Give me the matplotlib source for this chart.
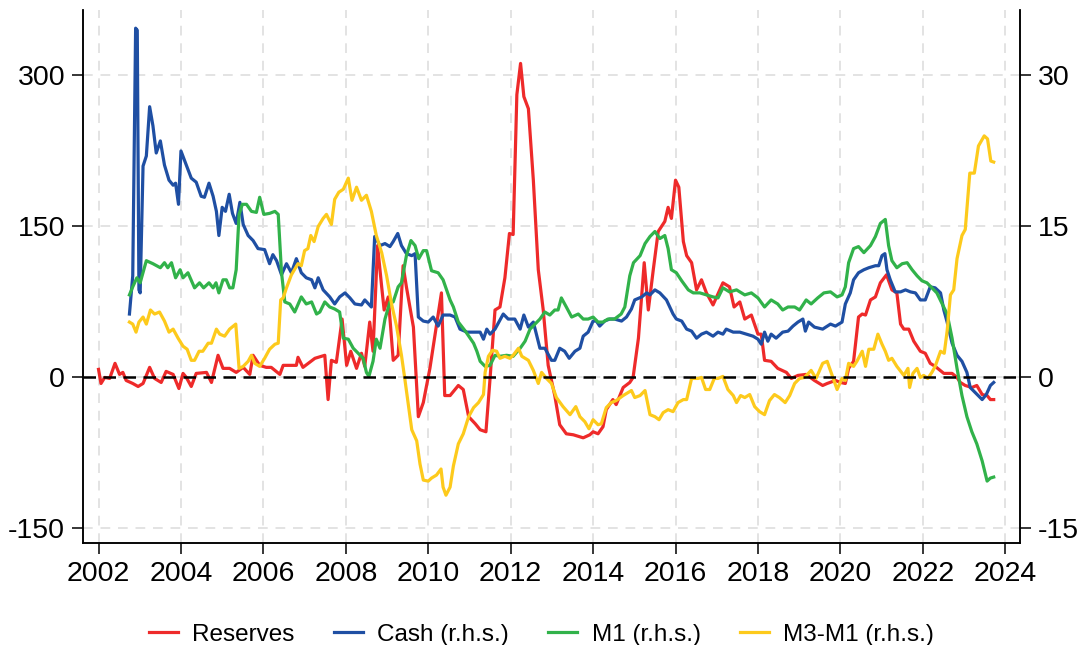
import numpy as np
import matplotlib
matplotlib.use("Agg")
import matplotlib.pyplot as plt

plt.rcParams['font.family'] = ['Liberation Sans', 'DejaVu Sans']
plt.rcParams['axes.unicode_minus'] = False

# Reserves (l.h.s.)
res_t = [2002.00, 2002.06, 2002.15, 2002.27, 2002.40, 2002.51, 2002.59, 2002.67, 2002.83, 2002.96,
         2003.08, 2003.24, 2003.36, 2003.52, 2003.64, 2003.81, 2003.95, 2004.05, 2004.13, 2004.25,
         2004.37, 2004.62, 2004.74, 2004.90, 2005.02, 2005.18, 2005.34, 2005.51, 2005.67, 2005.75,
         2005.91, 2006.07, 2006.19, 2006.40, 2006.48, 2006.80, 2006.84, 2006.96, 2007.25, 2007.49,
         2007.57, 2007.65, 2007.77, 2007.91, 2008.02, 2008.12, 2008.26, 2008.38, 2008.46, 2008.58,
         2008.66, 2008.77, 2008.87, 2008.93, 2009.03, 2009.15, 2009.27, 2009.39, 2009.47, 2009.64,
         2009.76, 2009.88, 2010.04, 2010.24, 2010.32, 2010.40, 2010.53, 2010.73, 2010.85, 2010.98,
         2011.14, 2011.26, 2011.40, 2011.50, 2011.62, 2011.74, 2011.86, 2011.97, 2012.06, 2012.15,
         2012.24, 2012.32, 2012.43, 2012.55, 2012.67, 2012.79, 2012.91, 2013.07, 2013.19, 2013.35,
         2013.52, 2013.76, 2013.92, 2014.00, 2014.12, 2014.24, 2014.32, 2014.48, 2014.56, 2014.73,
         2014.89, 2014.97, 2015.10, 2015.24, 2015.34, 2015.46, 2015.58, 2015.74, 2015.82, 2015.90,
         2016.00, 2016.08, 2016.19, 2016.27, 2016.39, 2016.51, 2016.63, 2016.75, 2016.91, 2017.15,
         2017.31, 2017.42, 2017.56, 2017.68, 2017.84, 2018.00, 2018.08, 2018.16, 2018.32, 2018.48,
         2018.69, 2018.81, 2018.97, 2019.17, 2019.37, 2019.57, 2019.68, 2019.88, 2020.00, 2020.12,
         2020.20, 2020.32, 2020.44, 2020.53, 2020.61, 2020.73, 2020.85, 2020.97, 2021.12, 2021.25,
         2021.37, 2021.46, 2021.54, 2021.66, 2021.78, 2021.94, 2022.06, 2022.18, 2022.30, 2022.51,
         2022.71, 2022.83, 2022.91, 2023.03, 2023.19, 2023.31, 2023.44, 2023.56, 2023.64, 2023.72]
res_v = [8, -6, 0, -1, 14, 3, 5, -3, -6, -9,
         -6, 10, -1, -5, 6, 3, -11, 4, 0, -9,
         4, 5, -5, 22, 9, 9, 5, 10, 3, 22,
         12, 10, 10, 3, 12, 12, 20, 10, 19, 22,
         -22, 17, 15, 58, 12, 26, 9, 24, 11, 55,
         26, 131, 90, 67, 80, 17, 22, 111, 90, 50,
         -39, -25, 9, 63, 84, -18, -18, -8, -12, -39,
         -46, -52, -54, -1, 67, 70, 99, 143, 142, 281,
         312, 279, 267, 196, 107, 67, 12, -18, -47, -56,
         -57, -60, -57, -54, -56, -49, -32, -22, -27, -10,
         -5, 0, 39, 114, 67, 107, 145, 155, 169, 158,
         196, 189, 135, 121, 114, 87, 97, 84, 72, 94,
         90, 70, 75, 58, 62, 43, 43, 17, 16, 9,
         5, -1, 2, 3, -3, -8, -6, -3, -5, -6,
         9, 16, 60, 63, 62, 77, 80, 94, 102, 87,
         84, 53, 48, 48, 36, 26, 24, 14, 11, 4,
         4, 0, -5, -8, -10, -8, -17, -18, -22, -22]

# Cash (r.h.s.)
cash_t = [2002.75, 2002.83, 2002.90, 2002.94, 2002.98, 2003.01, 2003.08, 2003.16, 2003.24, 2003.32,
          2003.40, 2003.50, 2003.60, 2003.71, 2003.81, 2003.87, 2003.94, 2004.00, 2004.13, 2004.25,
          2004.37, 2004.49, 2004.57, 2004.68, 2004.78, 2004.86, 2004.92, 2005.00, 2005.08, 2005.17,
          2005.25, 2005.34, 2005.43, 2005.51, 2005.63, 2005.75, 2005.87, 2006.03, 2006.15, 2006.23,
          2006.32, 2006.44, 2006.56, 2006.68, 2006.80, 2006.92, 2007.04, 2007.17, 2007.25, 2007.33,
          2007.45, 2007.61, 2007.73, 2007.85, 2007.98, 2008.10, 2008.22, 2008.38, 2008.46, 2008.62,
          2008.70, 2008.83, 2008.95, 2009.07, 2009.15, 2009.26, 2009.35, 2009.47, 2009.60, 2009.68,
          2009.76, 2009.88, 2010.00, 2010.12, 2010.24, 2010.36, 2010.53, 2010.65, 2010.77, 2010.94,
          2011.10, 2011.26, 2011.34, 2011.42, 2011.50, 2011.62, 2011.82, 2011.94, 2012.10, 2012.23,
          2012.32, 2012.43, 2012.55, 2012.71, 2012.83, 2012.99, 2013.07, 2013.19, 2013.31, 2013.42,
          2013.56, 2013.68, 2013.76, 2013.88, 2014.00, 2014.08, 2014.16, 2014.28, 2014.40, 2014.52,
          2014.69, 2014.81, 2014.93, 2015.01, 2015.18, 2015.30, 2015.38, 2015.50, 2015.62, 2015.78,
          2015.86, 2015.94, 2016.02, 2016.15, 2016.27, 2016.39, 2016.51, 2016.63, 2016.75, 2016.91,
          2017.03, 2017.15, 2017.23, 2017.40, 2017.56, 2017.72, 2017.88, 2018.00, 2018.08, 2018.16,
          2018.24, 2018.32, 2018.44, 2018.60, 2018.73, 2018.85, 2018.97, 2019.09, 2019.15, 2019.23,
          2019.37, 2019.57, 2019.76, 2019.88, 2020.04, 2020.12, 2020.24, 2020.32, 2020.44, 2020.57,
          2020.69, 2020.85, 2020.93, 2021.01, 2021.08, 2021.13, 2021.21, 2021.33, 2021.46, 2021.58,
          2021.70, 2021.82, 2021.94, 2022.06, 2022.18, 2022.30, 2022.43, 2022.51, 2022.59, 2022.71,
          2022.83, 2022.95, 2023.07, 2023.15, 2023.27, 2023.44, 2023.54, 2023.64, 2023.72]
cash_v = [6.3, 10.1, 34.7, 34.5, 8.7, 8.4, 21.0, 22.0, 26.9, 25.0,
          22.3, 23.5, 21.1, 19.6, 19.1, 19.3, 17.2, 22.5, 21.1, 19.8,
          19.4, 18.0, 17.9, 19.3, 18.0, 16.5, 14.1, 16.9, 16.5, 18.2,
          16.3, 15.3, 17.4, 15.2, 14.1, 13.6, 12.8, 12.7, 11.3, 12.2,
          11.6, 10.2, 11.3, 10.4, 11.8, 10.4, 9.9, 9.7, 8.9, 9.9,
          8.7, 8.0, 7.3, 8.0, 8.4, 7.9, 7.3, 7.2, 7.7, 7.0,
          14.0, 13.1, 13.3, 13.0, 13.5, 14.3, 13.1, 12.3, 12.1, 12.3,
          6.0, 5.6, 5.5, 6.0, 5.1, 6.2, 6.2, 6.0, 4.8, 4.5,
          4.5, 4.5, 3.8, 4.8, 4.3, 4.8, 6.3, 5.8, 5.8, 4.8,
          6.2, 5.0, 5.5, 2.9, 2.9, 1.7, 1.7, 2.9, 2.6, 1.9,
          2.6, 2.9, 4.1, 4.5, 5.6, 5.6, 5.1, 5.6, 5.8, 5.8,
          5.6, 6.0, 6.8, 7.7, 8.0, 8.4, 8.2, 8.7, 8.4, 7.7,
          7.0, 6.3, 5.8, 5.6, 4.8, 4.6, 3.9, 4.3, 4.5, 4.1,
          4.5, 4.3, 4.8, 4.5, 4.5, 4.3, 4.1, 3.8, 3.3, 4.5,
          3.6, 4.3, 3.9, 4.5, 4.6, 5.1, 5.5, 5.8, 4.6, 5.5,
          5.0, 4.8, 5.3, 5.1, 5.5, 7.3, 8.4, 9.7, 10.4, 10.7,
          10.9, 11.1, 11.1, 12.1, 12.3, 10.7, 9.7, 8.5, 8.5, 8.7,
          8.5, 8.4, 7.7, 7.7, 9.0, 8.9, 8.4, 6.7, 5.5, 3.4,
          2.2, 1.6, 0.5, -1.0, -1.5, -2.2, -1.7, -0.8, -0.5]

# M1 (r.h.s.)
m1_t = [2002.75, 2002.83, 2002.93, 2003.01, 2003.16, 2003.32, 2003.50, 2003.60, 2003.68, 2003.77,
        2003.87, 2003.98, 2004.05, 2004.17, 2004.33, 2004.45, 2004.55, 2004.68, 2004.78, 2004.85,
        2004.92, 2005.02, 2005.10, 2005.18, 2005.26, 2005.34, 2005.41, 2005.49, 2005.59, 2005.71,
        2005.83, 2005.91, 2006.01, 2006.15, 2006.28, 2006.36, 2006.44, 2006.52, 2006.64, 2006.76,
        2006.92, 2007.04, 2007.17, 2007.29, 2007.37, 2007.49, 2007.61, 2007.73, 2007.85, 2007.94,
        2008.06, 2008.18, 2008.30, 2008.42, 2008.50, 2008.56, 2008.66, 2008.74, 2008.83, 2008.95,
        2009.07, 2009.15, 2009.27, 2009.35, 2009.47, 2009.58, 2009.68, 2009.77, 2009.88, 2009.96,
        2010.08, 2010.24, 2010.36, 2010.53, 2010.61, 2010.73, 2010.90, 2011.10, 2011.18, 2011.26,
        2011.38, 2011.50, 2011.62, 2011.74, 2011.90, 2012.06, 2012.23, 2012.35, 2012.47, 2012.59,
        2012.71, 2012.83, 2012.95, 2013.07, 2013.15, 2013.23, 2013.35, 2013.48, 2013.64, 2013.76,
        2013.88, 2014.00, 2014.12, 2014.24, 2014.36, 2014.52, 2014.68, 2014.77, 2014.89, 2014.98,
        2015.14, 2015.26, 2015.38, 2015.50, 2015.62, 2015.74, 2015.82, 2015.90, 2016.02, 2016.15,
        2016.31, 2016.43, 2016.59, 2016.75, 2016.91, 2017.03, 2017.15, 2017.31, 2017.48, 2017.68,
        2017.84, 2018.00, 2018.16, 2018.32, 2018.48, 2018.60, 2018.73, 2018.89, 2019.01, 2019.17,
        2019.29, 2019.45, 2019.60, 2019.76, 2019.92, 2020.04, 2020.12, 2020.20, 2020.32, 2020.44,
        2020.57, 2020.73, 2020.85, 2020.97, 2021.09, 2021.17, 2021.25, 2021.37, 2021.50, 2021.62,
        2021.74, 2021.86, 2021.98, 2022.10, 2022.22, 2022.34, 2022.47, 2022.59, 2022.71, 2022.83,
        2022.95, 2023.07, 2023.19, 2023.31, 2023.44, 2023.56, 2023.64, 2023.72]
m1_v = [8.2, 9.0, 9.9, 9.4, 11.6, 11.3, 10.9, 11.4, 10.9, 11.4,
        9.9, 10.7, 9.9, 10.4, 8.9, 9.4, 8.9, 9.4, 8.9, 9.4,
        8.4, 9.7, 9.7, 8.9, 8.9, 10.7, 16.2, 17.2, 17.2, 16.5,
        16.4, 17.9, 16.2, 16.3, 16.5, 16.2, 10.4, 7.5, 7.3, 6.5,
        8.0, 7.3, 7.5, 6.3, 6.5, 7.5, 7.0, 6.8, 6.5, 3.9,
        3.8, 2.9, 2.4, 1.9, 0.5, 0.1, 1.6, 3.8, 2.9, 5.8,
        7.5, 7.5, 9.0, 9.4, 12.1, 13.6, 13.1, 11.8, 12.6, 12.6,
        10.6, 10.4, 9.7, 7.7, 7.0, 5.5, 4.6, 3.4, 2.6, 1.6,
        1.1, 1.2, 2.2, 2.1, 2.2, 2.1, 2.9, 3.6, 4.8, 5.3,
        5.8, 6.5, 6.2, 6.7, 6.7, 7.9, 7.0, 6.0, 6.3, 5.8,
        5.8, 6.0, 5.5, 5.5, 5.8, 5.8, 6.3, 7.0, 10.1, 11.4,
        12.1, 13.3, 14.0, 14.5, 13.8, 14.1, 12.8, 10.7, 10.4, 9.6,
        8.7, 8.4, 8.4, 8.2, 8.0, 7.9, 8.9, 8.5, 8.7, 8.2,
        8.4, 7.9, 7.0, 7.7, 7.3, 6.7, 7.0, 7.0, 6.7, 7.7,
        7.3, 7.9, 8.4, 8.5, 8.0, 8.2, 9.0, 11.4, 12.8, 13.0,
        12.4, 13.1, 14.0, 15.3, 15.7, 13.1, 11.6, 10.9, 11.3, 11.4,
        10.7, 10.1, 9.6, 9.4, 8.9, 8.4, 7.3, 6.3, 3.9, 0.9,
        -1.8, -3.9, -5.4, -6.6, -8.3, -10.3, -10.0, -9.9]

# M3-M1 (r.h.s.)
m3_t = [2002.75, 2002.83, 2002.91, 2002.98, 2003.08, 2003.16, 2003.26, 2003.36, 2003.48, 2003.60,
        2003.71, 2003.81, 2003.93, 2004.05, 2004.15, 2004.25, 2004.33, 2004.44, 2004.53, 2004.66,
        2004.74, 2004.86, 2004.94, 2005.06, 2005.18, 2005.33, 2005.41, 2005.51, 2005.63, 2005.71,
        2005.79, 2005.91, 2006.03, 2006.15, 2006.28, 2006.36, 2006.42, 2006.48, 2006.56, 2006.68,
        2006.84, 2006.92, 2007.00, 2007.08, 2007.15, 2007.23, 2007.33, 2007.45, 2007.53, 2007.65,
        2007.73, 2007.83, 2007.94, 2008.06, 2008.15, 2008.26, 2008.38, 2008.50, 2008.62, 2008.74,
        2008.87, 2008.99, 2009.11, 2009.23, 2009.35, 2009.43, 2009.51, 2009.60, 2009.72, 2009.80,
        2009.88, 2010.00, 2010.08, 2010.20, 2010.31, 2010.36, 2010.43, 2010.53, 2010.61, 2010.73,
        2010.85, 2010.98, 2011.10, 2011.22, 2011.34, 2011.38, 2011.46, 2011.56, 2011.66, 2011.74,
        2011.86, 2011.98, 2012.06, 2012.19, 2012.27, 2012.43, 2012.55, 2012.67, 2012.75, 2012.87,
        2012.99, 2013.11, 2013.27, 2013.44, 2013.58, 2013.68, 2013.80, 2013.90, 2014.00, 2014.12,
        2014.20, 2014.32, 2014.44, 2014.56, 2014.73, 2014.93, 2015.01, 2015.14, 2015.26, 2015.38,
        2015.50, 2015.60, 2015.70, 2015.82, 2015.94, 2016.06, 2016.19, 2016.27, 2016.39, 2016.55,
        2016.63, 2016.73, 2016.83, 2016.94, 2017.03, 2017.15, 2017.27, 2017.40, 2017.48, 2017.58,
        2017.68, 2017.80, 2017.92, 2018.04, 2018.16, 2018.28, 2018.40, 2018.52, 2018.66, 2018.77,
        2018.89, 2019.01, 2019.13, 2019.29, 2019.41, 2019.57, 2019.68, 2019.80, 2019.92, 2020.04,
        2020.12, 2020.20, 2020.32, 2020.40, 2020.53, 2020.61, 2020.69, 2020.81, 2020.91, 2021.01,
        2021.09, 2021.17, 2021.25, 2021.37, 2021.54, 2021.64, 2021.68, 2021.76, 2021.86, 2021.94,
        2022.02, 2022.12, 2022.22, 2022.30, 2022.43, 2022.52, 2022.59, 2022.67, 2022.75, 2022.83,
        2022.95, 2023.03, 2023.14, 2023.25, 2023.35, 2023.49, 2023.57, 2023.65, 2023.72]
m3_v = [5.5, 5.3, 4.5, 5.5, 6.0, 5.3, 6.7, 6.3, 6.5, 5.6,
        4.5, 4.8, 3.9, 3.1, 2.8, 1.7, 1.7, 2.6, 2.6, 3.4,
        3.4, 4.8, 4.3, 4.1, 4.8, 5.3, 0.9, 1.1, 1.6, 2.2,
        1.4, 1.1, 1.9, 2.8, 3.3, 3.4, 7.7, 7.9, 8.9, 10.2,
        11.3, 11.1, 12.6, 12.8, 14.1, 13.5, 15.0, 15.8, 16.2, 15.2,
        17.7, 18.4, 18.7, 19.8, 17.6, 18.9, 17.6, 18.1, 16.5, 14.1,
        12.4, 10.1, 7.3, 5.1, 2.2, -0.1, -2.5, -5.2, -6.3, -8.6,
        -10.2, -10.3, -10.0, -9.7, -9.1, -10.9, -11.7, -10.9, -8.8, -6.6,
        -5.6, -3.9, -3.0, -2.5, -1.7, 0.5, 2.1, 2.7, 2.6, 1.9,
        2.1, 1.9, 2.2, 2.9, 2.1, 1.7, 0.7, -0.6, 0.5, -0.1,
        -0.6, -2.0, -2.9, -3.7, -2.9, -3.9, -4.4, -5.1, -4.2, -4.7,
        -4.6, -3.0, -2.5, -2.3, -1.8, -1.3, -2.0, -1.8, -1.3, -3.7,
        -3.9, -4.2, -3.5, -3.2, -3.4, -2.5, -2.2, -2.2, -0.1, -0.1,
        0.0, -1.2, -1.2, -0.1, -0.1, 0.1, -1.2, -1.8, -2.5, -1.8,
        -2.0, -1.7, -2.9, -3.4, -3.7, -2.3, -1.7, -2.0, -2.5, -1.8,
        -0.6, -0.1, 0.0, 0.7, -0.1, 1.4, 1.6, 0.2, -1.2, -0.1,
        -0.3, 1.4, 1.1, 1.6, 2.6, 1.1, 2.8, 2.8, 4.3, 3.3,
        2.6, 1.7, 1.9, 1.1, 0.2, 0.9, -1.0, 0.4, 0.9, 0.0,
        0.2, -0.1, 0.5, 1.1, 2.6, 2.4, 4.6, 8.2, 8.7, 11.8,
        14.1, 14.7, 20.3, 20.3, 23.0, 24.0, 23.7, 21.5, 21.4]

year_ticks = list(range(2002, 2025, 2))
left_ticks = [-150, 0, 150, 300]
right_ticks = [-15, 0, 15, 30]

fig = plt.figure(figsize=(10.83, 6.45), dpi=100)
ax = fig.add_axes([0.0769, 0.158, 0.865, 0.827])
ax2 = ax.twinx()

lw = 2.3
ax.grid(True, color='#e3e3e3', linestyle=(0, (5, 4)), linewidth=1.4)
l1, = ax.plot(res_t, res_v, color='#ee2a2a', lw=lw, label='Reserves', zorder=2)
l2, = ax2.plot(cash_t, cash_v, color='#1f4fa3', lw=lw, label='Cash (r.h.s.)', zorder=2)
l3, = ax2.plot(m1_t, m1_v, color='#31b24a', lw=lw, label='M1 (r.h.s.)', zorder=2)
l4, = ax2.plot(m3_t, m3_v, color='#fdca1c', lw=lw, label='M3-M1 (r.h.s.)', zorder=2)
ax2.axhline(0, color='black', linestyle=(0, (5, 3)), linewidth=1.8, zorder=3)

ax.set_xlim(2001.63, 2024.36)
ax.set_ylim(-164.6, 365.4)
ax2.set_ylim(-16.46, 36.54)
ax.set_xticks(year_ticks)
ax.set_yticks(left_ticks)
ax2.set_yticks(right_ticks)

for a in (ax, ax2):
    a.spines['top'].set_visible(False)
    a.tick_params(direction='out', length=8, width=1.1, labelsize=20.5, pad=5)
    for s in a.spines.values():
        s.set_linewidth(1.1)

fig.legend(handles=[l1, l2, l3, l4], loc='lower center', bbox_to_anchor=(0.5, -0.035),
           ncol=4, frameon=False, fontsize=17.5, handlelength=1.2, columnspacing=1.6,
           handletextpad=0.6)

fig.savefig('out.png', dpi=100)
